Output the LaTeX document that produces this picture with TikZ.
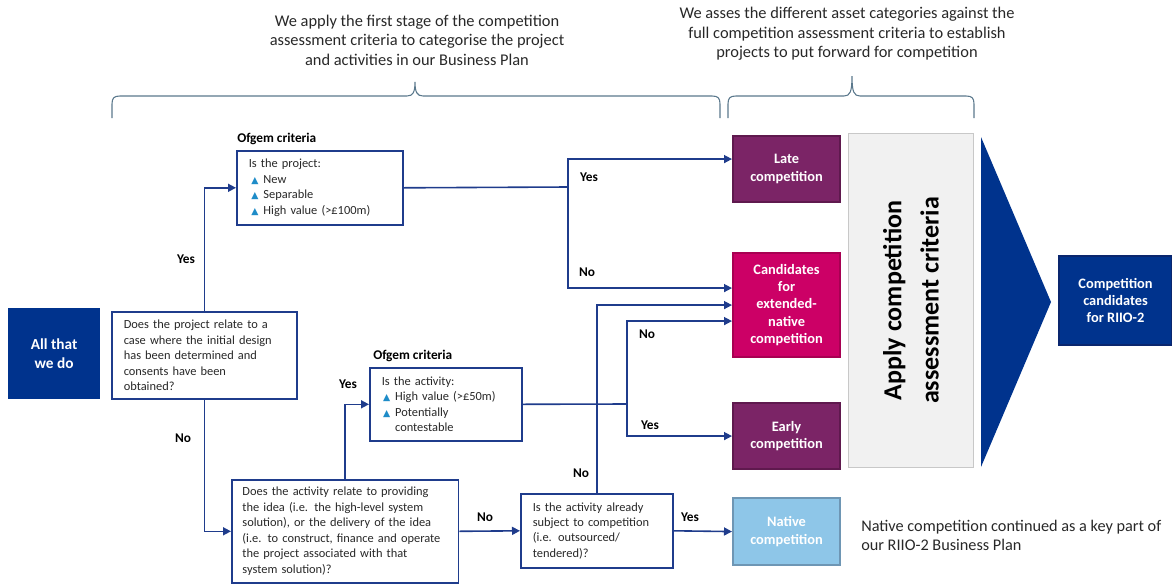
\documentclass[tikz,border=0pt]{standalone}
\usepackage{fontspec}
\setmainfont{Carlito}
\newfontfamily\symfont{DejaVu Sans}
\usetikzlibrary{arrows.meta}
\definecolor{lineblue}{RGB}{31,60,140}
\definecolor{darkblue}{RGB}{0,51,141}
\definecolor{darkblueb}{RGB}{10,38,110}
\definecolor{purp}{RGB}{123,36,102}
\definecolor{purpb}{RGB}{95,25,78}
\definecolor{magen}{RGB}{204,0,102}
\definecolor{magenb}{RGB}{168,0,82}
\definecolor{lblue}{RGB}{142,198,232}
\definecolor{lblueb}{RGB}{110,150,180}
\definecolor{greyf}{RGB}{241,241,241}
\definecolor{greyb}{RGB}{200,200,200}
\definecolor{bracec}{RGB}{90,120,140}
\definecolor{bulblue}{RGB}{30,140,200}
\definecolor{txtgrey}{RGB}{40,40,40}
\newcommand{\boxfont}{\fontsize{9.3}{11.6}\selectfont}
\newcommand{\cfont}{\fontsize{10.8}{13}\selectfont\bfseries}
\newcommand{\lblfont}{\fontsize{10}{11}\selectfont\bfseries}
\newcommand{\topfont}{\fontsize{12.3}{14.6}\selectfont}
\newcommand{\bigfont}{\fontsize{19.5}{28}\selectfont\bfseries}
\newcommand{\notefont}{\fontsize{12.2}{14.5}\selectfont}
\newcommand{\bul}{\makebox[9pt][l]{\textcolor{bulblue}{\symfont\fontsize{7}{7}\selectfont ▲}}}
\tikzset{
  conn/.style={draw=lineblue, line width=1.2pt},
  arr/.style={conn, -{Triangle[length=6pt,width=6pt]}},
  wbox/.style={draw=lineblue, line width=1.2pt, fill=white, anchor=north west,
    align=left, inner xsep=9pt, inner ysep=0pt, font=\boxfont, text=txtgrey},
  cbox/.style={anchor=north west, line width=1.6pt, align=center, text=white,
    font=\cfont, inner sep=0pt, minimum width=80.25pt},
  lbl/.style={font=\lblfont, inner sep=0pt, text=black},
  bracest/.style={draw=bracec, line width=0.8pt},
}
\begin{document}
\begin{tikzpicture}[x=0.75pt,y=-0.75pt]
\useasboundingbox (0,0) rectangle (1172,583);

% top texts
\node[font=\topfont, align=center, text=txtgrey] (t1) at (417,40)
  {We apply the first stage of the competition\\assessment criteria to categorise the project\\and activities in our Business Plan};
\node[font=\topfont, align=center, text=txtgrey] (t2) at (847,34)
  {We asses the different asset categories against the\\full competition assessment criteria to establish\\projects to put forward for competition};

% braces
\draw[bracest] (112,118) -- (112,104) .. controls (112,98) and (114,96) .. (120,96) -- (407,96)
  .. controls (413,96) and (415,92) .. (415,82) .. controls (415,92) and (417,96) .. (423,96)
  -- (712,96) .. controls (718,96) and (720,98) .. (720,104) -- (720,118);
\draw[bracest] (728,118) -- (728,104) .. controls (728,98) and (730,96) .. (736,96) -- (844,96)
  .. controls (850,96) and (852,92) .. (852,76) .. controls (852,92) and (854,96) .. (860,96)
  -- (966,96) .. controls (972,96) and (974,98) .. (974,104) -- (974,118);

% left box
\node[cbox, fill=darkblue, draw=darkblue, font=\fontsize{11.5}{14}\selectfont\bfseries, minimum width=67.5pt, minimum height=66.75pt] (all) at (8,308) {All that\\we do};

% question boxes
\node[wbox, text width=120.75pt, minimum height=65.25pt] (q1) at (111,311)
  {Does the project relate to a\\case where the initial design\\has been determined and\\consents have been\\obtained?};
\node[wbox, text width=106.5pt, minimum height=55.5pt] (p) at (236,150)
  {Is the project:\\\hspace*{2pt}\bul New\\\hspace*{2pt}\bul Separable\\\hspace*{2pt}\bul High value (>£100m)};
\node[wbox, text width=96pt, minimum height=54.75pt] (a) at (369,367)
  {Is the activity:\\\hspace*{1pt}\bul High value (>£50m)\\\hspace*{1pt}\bul Potentially\\\hspace*{10pt}contestable};
\node[wbox, inner xsep=8pt, text width=154pt, minimum height=77.25pt] (q2) at (231,479)
  {Does the activity relate to providing\\the idea (i.e. the high-level system\\solution), or the delivery of the idea\\(i.e. to construct, finance and operate\\the project associated with that\\system solution)?};
\node[wbox, text width=96pt, minimum height=55.5pt] (q3) at (520,493)
  {Is the activity already\\subject to competition\\(i.e. outsourced/\\tendered)?};

\node[lbl, anchor=west] (o1) at (237,139) {Ofgem criteria};
\node[lbl, anchor=west] (o2) at (373,356) {Ofgem criteria};

% outcome boxes
\node[cbox, fill=purp, draw=purpb, minimum height=49.5pt] (late) at (732,135) {Late\\competition};
\node[cbox, fill=magen, draw=magenb, minimum height=78pt] (cand) at (732,252) {Candidates\\for\\extended-\\native\\competition};
\node[cbox, fill=purp, draw=purpb, minimum height=49.5pt] (early) at (732,402) {Early\\competition};
\node[cbox, fill=lblue, draw=lblueb, minimum height=50.25pt] (native) at (732,497) {Native\\competition};

% apply box and arrow
\node[anchor=north west, fill=greyf, draw=greyb, line width=0.6pt, minimum width=93.75pt, minimum height=250.5pt, inner sep=0pt] (apply) at (848,133) {};
\node[rotate=90, align=center, font=\bigfont, text=black] (applyt) at (apply.center) {Apply competition\\assessment criteria};
\fill[darkblue] (981,137) -- (1051,302) -- (981,467) -- cycle;
\node[cbox, fill=darkblue, draw=darkblueb, minimum width=84.75pt, minimum height=66.75pt] (final) at (1058,255) {Competition\\candidates\\for RIIO-2};

\node[font=\notefont, align=left, anchor=west, text=txtgrey, inner sep=0pt] (note) at (861,535.5)
  {Native competition continued as a key part of\\our RIIO-2 Business Plan};

% connectors
\draw[arr] (q1.north) |- (p.west);
\draw[arr] (q1.south) |- (q2.west);
\draw[arr] (q2.north) |- (a.west);
\draw[arr] (q2.east) -- (q3.west);
\draw[arr] (q3.north) |- (cand.west);
\draw[arr] (q3.east) -- (native.west);
\coordinate (j1) at (568,187);
\draw[conn] (p.east) -- (j1);
\draw[arr] (j1) |- ([yshift=7.5pt]late.west);
\draw[arr] (j1) |- ([yshift=12.75pt]cand.west);
\coordinate (j2) at (627,404);
\draw[conn] (a.east) -- (j2);
\draw[arr] (j2) |- ([yshift=-12pt]cand.west);
\draw[arr] (j2) |- (early.west);

% labels
\node[lbl] (y1) at (186,259) {Yes};
\node[lbl] (n1) at (183,438) {No};
\node[lbl] (y2) at (348,384) {Yes};
\node[lbl] (n2) at (485,517) {No};
\node[lbl] (n3) at (581,473) {No};
\node[lbl] (y3) at (690,517) {Yes};
\node[lbl] (y4) at (589,177) {Yes};
\node[lbl] (n4) at (587,272) {No};
\node[lbl] (n5) at (647,334) {No};
\node[lbl] (y5) at (650,425) {Yes};
\end{tikzpicture}
\end{document}
